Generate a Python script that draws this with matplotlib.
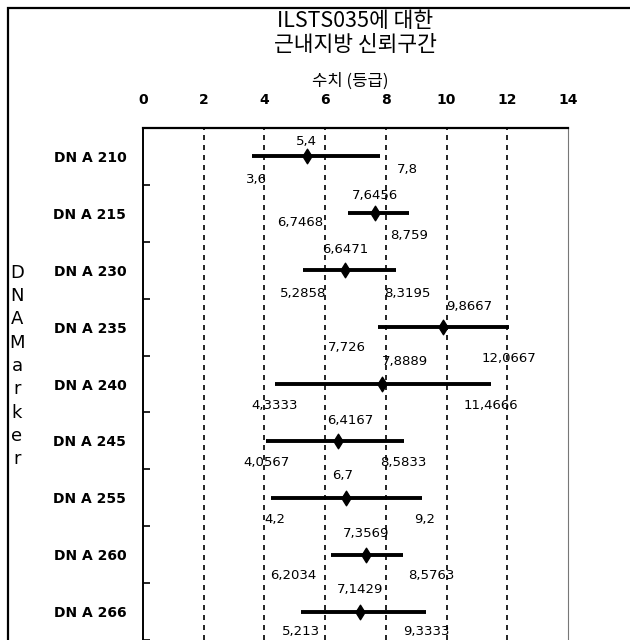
import numpy as np
import matplotlib.pyplot as plt
from matplotlib.patches import Rectangle
from matplotlib.path import Path
from matplotlib.ticker import FixedLocator

plt.rcParams['font.family'] = ['DejaVu Sans', 'Noto Sans CJK KR']

# confidence intervals per marker
markers = ['DN A 210', 'DN A 215', 'DN A 230', 'DN A 235', 'DN A 240',
           'DN A 245', 'DN A 255', 'DN A 260', 'DN A 266']
lower = [3.6, 6.7468, 5.2858, 7.726, 4.3333, 4.0567, 4.2, 6.2034, 5.213]
mean = [5.4, 7.6456, 6.6471, 9.8667, 7.8889, 6.4167, 6.7, 7.3569, 7.1429]
upper = [7.8, 8.759, 8.3195, 12.0667, 11.4666, 8.5833, 9.2, 8.5763, 9.3333]
xticks = [0, 2, 4, 6, 8, 10, 12, 14]

# label nudges in pixels (dx, dy) so neighbouring labels don't collide
mean_off = [(0, 15), (0, 18), (0, 21), (27, 21), (22, 22), (12, 20), (-4, 22), (0, 21), (0, 22)]
low_off = [(4, -23), (-48, -9), (0, -23), (-31, -20), (0, -21), (0, -22), (4, -22), (-38, -21), (0, -20)]
up_off = [(28, -13), (0, -22), (12, -23), (0, -31), (0, -21), (0, -22), (2, -22), (28, -21), (0, -20)]

# tall, narrow diamond for the point estimate
diamond = Path([(0, 1), (0.62, 0), (0, -1), (-0.62, 0), (0, 1)],
               [Path.MOVETO, Path.LINETO, Path.LINETO, Path.LINETO, Path.CLOSEPOLY])
cjk = ['Noto Sans CJK KR', 'DejaVu Sans']


def fmt(v):
    return f'{v:g}'.replace('.', ',')


fig = plt.figure(figsize=(6.3, 6.4), dpi=100)
ax = fig.add_axes([143 / 630, 0.0, 425 / 630, 512 / 640])

y = np.arange(len(markers))
ax.hlines(y, lower, upper, color='black', linewidth=2.8, zorder=3)
ax.scatter(mean, y, marker=diamond, s=110, color='black', zorder=4)

for i in range(len(markers)):
    for val, (dx, dy) in ((mean[i], mean_off[i]), (lower[i], low_off[i]), (upper[i], up_off[i])):
        ax.annotate(fmt(val), (val, y[i]), xytext=(dx, dy), textcoords='offset pixels',
                    ha='center', va='center', fontsize=9.5)

for g in xticks[1:-1]:
    ax.axvline(g, color='black', linewidth=1.2, linestyle=(0, (3, 3)), zorder=1)

ax.set_xlim(0, 14)
ax.set_ylim(len(markers) - 0.5, -0.5)

ax.xaxis.tick_top()
ax.set_xticks(xticks)
ax.tick_params(axis='x', length=0, pad=15, labelsize=10)
for t in ax.get_xticklabels():
    t.set_fontweight('bold')

ax.set_yticks(y)
ax.set_yticklabels(markers, fontsize=10, fontweight='bold')
ax.tick_params(axis='y', length=0, pad=12)
ax.yaxis.set_minor_locator(FixedLocator(np.arange(len(markers)) + 0.5))
ax.tick_params(axis='y', which='minor', length=5, direction='in', width=1.2)

ax.spines['bottom'].set_visible(False)
ax.spines['left'].set_linewidth(1.4)
ax.spines['top'].set_linewidth(1.6)
ax.spines['right'].set_color('#777777')
ax.spines['right'].set_linestyle((0, (1, 1)))

fig.text(355 / 630, 1 - 21 / 640, 'ILSTS035에 대한', ha='center', va='center',
         fontsize=15.5, family=cjk)
fig.text(355 / 630, 1 - 45 / 640, '근내지방 신뢰구간', ha='center', va='center',
         fontsize=15.5, family=cjk)
fig.text(350 / 630, 1 - 81 / 640, '수치 (등급)', ha='center', va='center',
         fontsize=12, family=cjk)
fig.text(17 / 630, 1 - 366 / 640, '\n'.join('DNAMarker'), ha='center', va='center',
         fontsize=13, linespacing=1.38)

# outer frame around the whole chart
fig.add_artist(Rectangle((8 / 630, -0.1), 1.0, 1 - 8 / 640 + 0.1, transform=fig.transFigure,
                         fill=False, edgecolor='black', linewidth=1.6))

fig.savefig('out.png', dpi=100)
